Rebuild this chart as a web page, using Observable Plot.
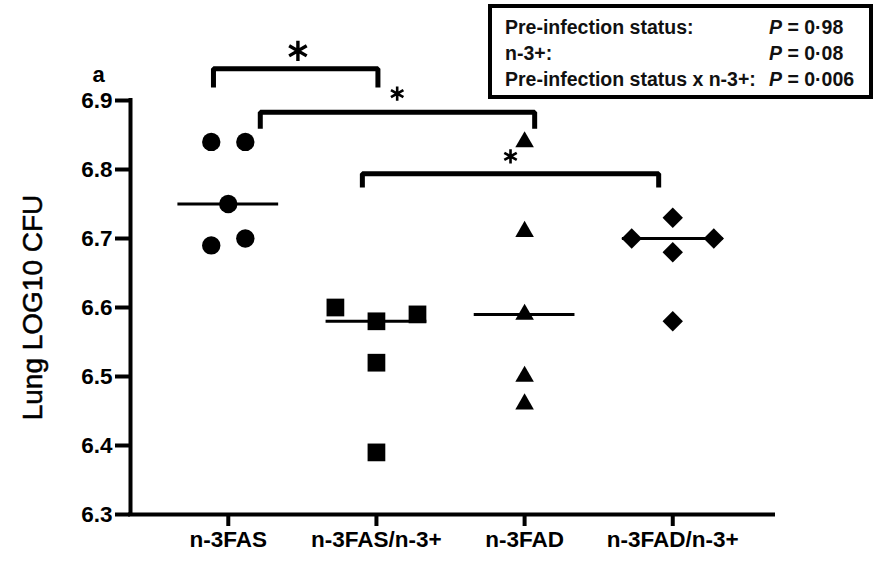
<!DOCTYPE html>
<html>
<head>
<meta charset="utf-8">
<script src="https://cdn.jsdelivr.net/npm/d3@7"></script>
<script src="https://cdn.jsdelivr.net/npm/@observablehq/plot@0.6"></script>
<style>
  body { margin: 0; background: #fff; }
  #chart { position: relative; width: 875px; height: 564px; font-family: "Liberation Sans", Arial, sans-serif; }
  #chart svg { display: block; }
  #stats {
    position: absolute; left: 488px; top: 4px; width: 385px; height: 95px;
    box-sizing: border-box; border: 4px solid #000; background: #fff;
    padding: 9px 0 0 13px;
    display: grid; grid-template-columns: 264px auto;
    font: bold 19.5px/21.5px "Liberation Sans", Arial, sans-serif; color: #111;
    white-space: nowrap;
  }
  #stats i { font-style: italic; }
</style>
</head>
<body>
<div id="chart"><div id="stats"></div></div>
<script>
// Lung bacterial load per diet group (log10 CFU), one value per mouse
const groups = ["n-3FAS", "n-3FAS/n-3+", "n-3FAD", "n-3FAD/n-3+"];
const fas = [6.84, 6.84, 6.75, 6.70, 6.69];
const fasN3 = [6.60, 6.58, 6.59, 6.52, 6.39];
const fad = [6.84, 6.71, 6.59, 6.50, 6.46];
const fadN3 = [6.73, 6.70, 6.70, 6.68, 6.58];
const yTicks = [6.3, 6.4, 6.5, 6.6, 6.7, 6.8, 6.9];

// Two-way ANOVA results
const effects = ["Pre-infection status:", "n-3+:", "Pre-infection status x n-3+:"];
const pValues = ["0·98", "0·08", "0·006"];

// Significance brackets (x in group-index units, y in log10 CFU)
const brackets = [
  {from: -0.10, to: 1.01, top: 6.946, foot: 6.919, starX: 0.47, starY: 6.972},
  {from: 0.216, to: 2.068, top: 6.883, foot: 6.859, starX: 1.14, starY: 6.910},
  {from: 0.905, to: 2.905, top: 6.794, foot: 6.774, starX: 1.905, starY: 6.819}
];

const series = [fas, fasN3, fad, fadN3];
const symbols = ["circle", "square", "triangle", "diamond2"];
const radii = [9.2, 10, 6.9, 9.2];

// Spread points with near-equal values side by side (scatter-dot layout)
function spread(values) {
  const order = d3.range(values.length).sort((a, b) => values[b] - values[a]);
  const off = new Array(values.length).fill(0);
  let cluster = [order[0]];
  const flush = () => {
    if (cluster.length === 2) { off[cluster[0]] = 0.115; off[cluster[1]] = -0.115; }
    else if (cluster.length === 3) { off[cluster[0]] = -0.277; off[cluster[1]] = 0.277; off[cluster[2]] = 0; }
  };
  for (let k = 1; k < order.length; k++) {
    if (values[order[k - 1]] - values[order[k]] < 0.025) cluster.push(order[k]);
    else { flush(); cluster = [order[k]]; }
  }
  flush();
  return off;
}

const points = series.map((vals, g) => {
  const off = spread(vals);
  return vals.map((v, k) => ({g, x: g + off[k], y: v}));
});
const medians = series.map((vals, g) => ({g, y: d3.median(vals)}));
const bracketPath = brackets.flatMap((b, i) =>
  [[b.from, b.foot], [b.from, b.top], [b.to, b.top], [b.to, b.foot]].map(([x, y]) => ({i, x, y})));

const font = "Liberation Sans, Arial, sans-serif";

const chart = Plot.plot({
  width: 875,
  height: 564,
  marginLeft: 130,
  marginRight: 102,
  marginTop: 100,
  marginBottom: 50,
  style: {fontFamily: font, color: "#000", background: "#fff", overflow: "visible"},
  x: {domain: [-0.66, 3.68]},
  y: {domain: [6.3, 6.9]},
  marks: [
    Plot.axisY({ticks: yTicks, tickFormat: d3.format(".1f"), tickSize: 15, tickPadding: 3,
      strokeWidth: 4, fontSize: 22.5, fontWeight: "bold", label: null}),
    Plot.axisX({ticks: [0, 1, 2, 3], tickFormat: i => groups[i], tickSize: 12, tickPadding: 5,
      strokeWidth: 4, fontSize: 22.5, fontWeight: "bold", label: null}),
    Plot.ruleY([6.3], {strokeWidth: 4, strokeLinecap: "square"}),
    Plot.ruleX([-0.66], {strokeWidth: 4, strokeLinecap: "square"}),
    Plot.text(["Lung LOG10 CFU"], {frameAnchor: "left", rotate: -90, dx: -97,
      fontSize: 28, textAnchor: "middle", lineAnchor: "middle", fill: "#000",
      stroke: "#000", strokeWidth: 0.5}),
    Plot.text(["a"], {frameAnchor: "top-left", dx: -32, dy: -26, fontSize: 22,
      fontWeight: "bold", textAnchor: "middle", lineAnchor: "middle"}),
    Plot.ruleY(medians, {y: "y", x1: d => d.g - 0.34, x2: d => d.g + 0.34, strokeWidth: 3}),
    ...points.map((pts, g) => Plot.dot(pts, {x: "x", y: "y", symbol: symbols[g], r: radii[g],
      fill: "#000", stroke: "none"})),
    Plot.line(bracketPath, {x: "x", y: "y", z: "i", strokeWidth: 5,
      strokeLinejoin: "miter", strokeLinecap: "butt"}),
    Plot.dot(brackets.slice(0, 1), {x: "starX", y: "starY", symbol: "asterisk", r: 9.6,
      stroke: "#000", strokeWidth: 3.4}),
    Plot.dot(brackets.slice(1), {x: "starX", y: "starY", symbol: "asterisk", r: 6.8,
      stroke: "#000", strokeWidth: 2.6})
  ]
});

const wrap = document.getElementById("chart");
wrap.insertBefore(chart, wrap.firstChild);

const stats = document.getElementById("stats");
effects.forEach((e, i) => {
  const a = document.createElement("span");
  a.textContent = e;
  const b = document.createElement("span");
  b.innerHTML = "<i>P</i> = " + pValues[i];
  stats.append(a, b);
});
</script>
</body>
</html>
